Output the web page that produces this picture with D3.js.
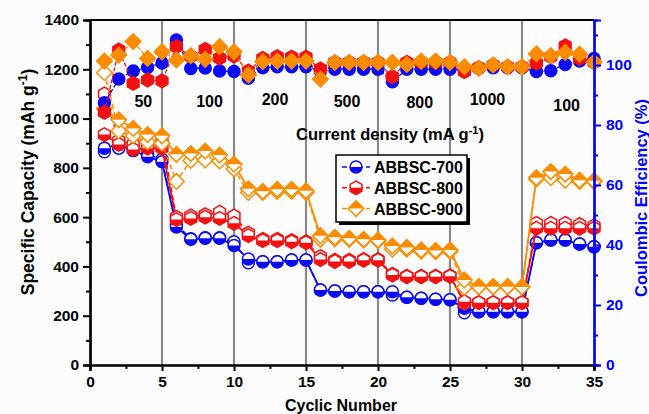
<!DOCTYPE html>
<meta charset="utf-8">
<head>
  <style>
    body { margin: 0; background: #fcfcfc; }
    svg { font-family: "Liberation Sans", Arial, sans-serif; font-weight: bold; }
    .tick text { font-size: 15.5px; font-weight: bold; }
  </style>
  <script src="https://cdn.jsdelivr.net/npm/d3@7"></script>
</head>
<body>
  <div id="viz"></div>
</body>
<script>
// cycle numbers and current density annotations
var cycles = [1,2,3,4,5,6,7,8,9,10,11,12,13,14,15,16,17,18,19,20,21,22,23,24,25,26,27,28,29,30,31,32,33,34,35];
var rateLabels = ["50", "100", "200", "500", "800", "1000", "100"];
var rateCycles = [3.7, 8.3, 12.85, 17.85, 22.9, 27.6, 33.1];
var rateY = [107, 107, 105, 107, 108, 105, 111];
var dividers = [5, 10, 15, 20, 25, 30];

// capacities (mAh/g): half filled markers and open markers
var cap700a = [880,895,870,845,825,560,510,514,514,485,430,419,419,426,426,304,300,297,297,297,297,275,271,267,265,230,216,216,216,216,496,507,507,491,480];
var cap700b = [865,880,880,855,835,570,512,516,516,500,415,419,419,426,426,304,300,297,297,297,284,275,271,267,265,212,216,216,216,216,496,507,507,491,480];
var cap800a = [935,895,875,880,880,590,595,600,595,575,525,505,505,500,496,428,420,420,425,425,365,358,358,358,360,257,253,253,253,253,555,555,555,555,555];
var cap800b = [1100,910,895,895,920,600,605,610,620,605,535,510,510,505,500,440,425,425,428,428,368,360,360,360,362,250,253,253,253,253,575,575,575,570,565];
var cap900a = [1040,995,960,935,930,855,858,868,852,815,715,705,713,713,707,525,518,514,510,507,483,477,467,465,467,345,318,318,318,317,760,785,775,750,748];
var cap900b = [1186,950,930,905,900,745,830,832,828,795,700,700,705,705,700,510,512,510,507,505,470,470,462,460,462,315,318,318,318,317,755,760,750,745,745];

// coulombic efficiency (%)
var ce700 = [87.4,95.3,98,99.2,100.7,108.3,98.8,99,98,97.8,95.6,99.1,99.4,99.4,99.4,98,98.6,98.6,98.6,98.6,94.4,98.6,98.6,98.6,98.6,98.3,98.9,99.1,99.1,99.1,97.8,98.1,100.2,101.3,102.2];
var ce800 = [84.2,105,93.9,95,94.7,106.1,102.9,105.2,102.3,103,98,102.2,102.8,102.6,102.6,98.7,100.9,100.9,100.9,100.9,96.1,100.9,100.9,100.9,100.9,97.8,99.1,100,99.4,99.4,100.6,102.8,106.4,102.2,100.9];
var ce900 = [101.3,103.3,107.8,102.2,104.4,101.7,103.1,101.9,106.1,104.4,96.7,101.1,101.3,101.3,101.3,95.3,100.9,100.9,100.9,100.9,100.9,100.2,101.3,101.3,100.9,99.4,98.9,100,99.4,99.4,103.7,103.1,104.2,103.6,100.9];

var names = ["ABBSC-700", "ABBSC-800", "ABBSC-900"];
var colors = ["#0a0af5", "#f21010", "#fb8c00"];
var shapes = ["circle", "hexagon", "diamond"];
var halves = ["bottom", "bottom", "top"];

var series = names.map(function(n, i) {
  return {
    name: n, color: colors[i], shape: shapes[i], half: halves[i],
    capA: [cap700a, cap800a, cap900a][i],
    capB: [cap700b, cap800b, cap900b][i],
    ce: [ce700, ce800, ce900][i]
  };
});

var W = 649, H = 414;
var pLeft = 90, pRight = 594, pTop = 20, pBottom = 365;

var svg = d3.select("#viz").append("svg")
  .attr("width", W).attr("height", H);

var defs = svg.append("defs");
defs.append("clipPath").attr("id", "clipBottom")
  .append("rect").attr("x", -12).attr("y", 0).attr("width", 24).attr("height", 12);
defs.append("clipPath").attr("id", "clipTop")
  .append("rect").attr("x", -12).attr("y", -12).attr("width", 24).attr("height", 12);

var x = d3.scaleLinear().domain([0, 35]).range([pLeft, pRight]);
var yCap = d3.scaleLinear().domain([0, 1400]).range([pBottom, pTop]);
var yCE = d3.scaleLinear().domain([0, 115]).range([pBottom, pTop]);

/* marker outlines centred on 0,0 */
function shapePath(shape) {
  if (shape == "circle") {
    var r = 6;
    return "M" + (-r) + ",0A" + r + "," + r + " 0 1,0 " + r + ",0A" + r + "," + r + " 0 1,0 " + (-r) + ",0Z";
  }
  if (shape == "hexagon") {
    var r = 6.8, pts = [];
    for (var k = 0; k < 6; k++) {
      var a = (-90 + 60 * k) * Math.PI / 180;
      pts.push([r * Math.cos(a), r * Math.sin(a)]);
    }
    return "M" + pts.join("L") + "Z";
  }
  var a = 7.8;
  return "M0," + (-a) + "L" + a + ",0L0," + a + "L" + (-a) + ",0Z";
}

// vertical dividers
svg.selectAll(".divider")
  .data(dividers)
  .enter()
  .append("line")
    .attr("x1", function(d) { return x(d); })
    .attr("x2", function(d) { return x(d); })
    .attr("y1", pTop).attr("y2", pBottom)
    .attr("stroke", "#8a8a8a").attr("stroke-width", 2.2);

function drawMarkers(g, s, values, yScale, kind) {
  var m = g.selectAll(null)
    .data(values)
    .enter()
    .append("g")
      .attr("transform", function(d, i) { return "translate(" + x(cycles[i]) + "," + yScale(d) + ")"; });
  m.append("path")
    .attr("d", shapePath(s.shape))
    .attr("fill", kind == "full" ? s.color : "#fff")
    .attr("stroke", s.color)
    .attr("stroke-width", 1.5);
  if (kind == "half") {
    m.append("path")
      .attr("d", shapePath(s.shape))
      .attr("fill", s.color)
      .attr("clip-path", s.half == "bottom" ? "url(#clipBottom)" : "url(#clipTop)");
  }
}

function drawLine(g, s, values, yScale, dash, width) {
  var line = d3.line()
    .x(function(d, i) { return x(cycles[i]); })
    .y(function(d) { return yScale(d); });
  g.append("path")
    .datum(values)
    .attr("d", line)
    .attr("fill", "none")
    .attr("stroke", s.color)
    .attr("stroke-width", width)
    .attr("stroke-dasharray", dash);
}

var plot = svg.append("g");
series.forEach(function(s) {
  var g = plot.append("g");
  drawLine(g, s, s.capB, yCap, "5,3", 1.5);
  drawLine(g, s, s.capA, yCap, null, 1.8);
  drawMarkers(g, s, s.capB, yCap, "open");
  drawMarkers(g, s, s.capA, yCap, "half");
});
series.forEach(function(s) {
  var g = plot.append("g");
  drawLine(g, s, s.ce, yCE, "4,2", 1.3);
  drawMarkers(g, s, s.ce, yCE, "full");
});

// axes
var fmt = d3.format("d");
var xAxis = d3.axisBottom(x).tickValues([0, 5, 10, 15, 20, 25, 30, 35]).tickSize(6).tickPadding(5).tickFormat(fmt);
var xMinor = d3.axisBottom(x).tickValues([2.5, 7.5, 12.5, 17.5, 22.5, 27.5, 32.5]).tickSize(4).tickFormat("");
var yAxis = d3.axisLeft(yCap).tickValues([0, 200, 400, 600, 800, 1000, 1200, 1400]).tickSize(7).tickPadding(4).tickFormat(fmt);
var yMinor = d3.axisLeft(yCap).tickValues([100, 300, 500, 700, 900, 1100, 1300]).tickSize(4).tickFormat("");
var rAxis = d3.axisRight(yCE).tickValues([0, 20, 40, 60, 80, 100]).tickSize(7).tickPadding(5).tickFormat(fmt);
var rMinor = d3.axisRight(yCE).tickValues([10, 30, 50, 70, 90, 110]).tickSize(4).tickFormat("");

function styleAxis(sel, color) {
  sel.selectAll("path").attr("stroke", color).attr("stroke-width", 2.2);
  sel.selectAll("line").attr("stroke", color).attr("stroke-width", 2);
  sel.selectAll("text").attr("fill", color);
}

svg.append("line")
  .attr("x1", pLeft).attr("x2", pRight).attr("y1", pTop).attr("y2", pTop)
  .attr("stroke", "#000").attr("stroke-width", 2.2);

svg.append("g").attr("transform", "translate(0," + pBottom + ")").call(xAxis).call(styleAxis, "#000");
svg.append("g").attr("transform", "translate(0," + pBottom + ")").call(xMinor).call(styleAxis, "#000");
svg.append("g").attr("transform", "translate(" + pLeft + ",0)").call(yAxis).call(styleAxis, "#000");
svg.append("g").attr("transform", "translate(" + pLeft + ",0)").call(yMinor).call(styleAxis, "#000");
svg.append("g").attr("transform", "translate(" + pRight + ",0)").call(rAxis).call(styleAxis, "#0000ff");
svg.append("g").attr("transform", "translate(" + pRight + ",0)").call(rMinor).call(styleAxis, "#0000ff");

// axis titles
var lt = svg.append("text")
  .attr("transform", "translate(34,182) rotate(-90)")
  .attr("text-anchor", "middle")
  .attr("font-size", 17.5);
lt.append("tspan").text("Specific Capacity (mAh g");
lt.append("tspan").attr("dy", -7).attr("font-size", 12).text("-1");
lt.append("tspan").attr("dy", 7).text(")");

svg.append("text")
  .attr("transform", "translate(647,198) rotate(-90)")
  .attr("text-anchor", "middle")
  .attr("font-size", 16.5)
  .attr("fill", "#0000ff")
  .text("Coulombic Efficiency (%)");

svg.append("text")
  .attr("x", 341).attr("y", 411)
  .attr("text-anchor", "middle")
  .attr("font-size", 16)
  .text("Cyclic Number");

// current density annotations
svg.selectAll(".rate")
  .data(rateLabels)
  .enter()
  .append("text")
    .attr("x", function(d, i) { return x(rateCycles[i]); })
    .attr("y", function(d, i) { return rateY[i]; })
    .attr("text-anchor", "middle")
    .attr("font-size", 16)
    .text(function(d) { return d; });

var ct = svg.append("text")
  .attr("x", 296).attr("y", 140)
  .attr("font-size", 16.5);
ct.append("tspan").text("Current density (mA g");
ct.append("tspan").attr("dy", -6).attr("font-size", 11).text("-1");
ct.append("tspan").attr("dy", 6).text(")");

// legend
var lg = svg.append("g").attr("transform", "translate(336,155)");
lg.append("rect").attr("x", 3).attr("y", 3).attr("width", 131).attr("height", 67).attr("fill", "#000");
lg.append("rect").attr("x", 0).attr("y", 0).attr("width", 131).attr("height", 67)
  .attr("fill", "#fff").attr("stroke", "#000").attr("stroke-width", 1.5);
series.forEach(function(s, i) {
  var row = lg.append("g").attr("transform", "translate(0," + (12 + i * 20.8) + ")");
  row.append("line").attr("x1", 6).attr("x2", 34).attr("y1", 0).attr("y2", 0)
    .attr("stroke", s.color).attr("stroke-width", 1.5).attr("stroke-dasharray", "5,3");
  var m = row.append("g").attr("transform", "translate(20,0)");
  m.append("path").attr("d", shapePath(s.shape)).attr("fill", "#fff")
    .attr("stroke", s.color).attr("stroke-width", 1.5);
  m.append("path").attr("d", shapePath(s.shape)).attr("fill", s.color)
    .attr("clip-path", s.half == "bottom" ? "url(#clipBottom)" : "url(#clipTop)");
  row.append("text").attr("x", 38).attr("y", 6).attr("font-size", 16).text(s.name);
});
</script>
